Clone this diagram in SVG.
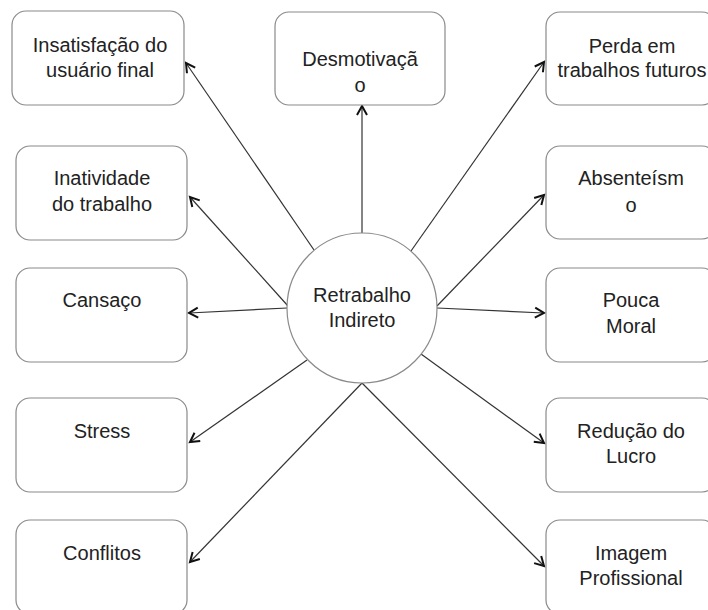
<svg xmlns="http://www.w3.org/2000/svg" width="708" height="610" viewBox="0 0 708 610">
  <style>
    .box { fill: #ffffff; stroke: #8a8a8a; stroke-width: 1.2; }
    .hub { fill: #ffffff; stroke: #8a8a8a; stroke-width: 1.2; }
    .lbl { font-family: "Liberation Sans", Arial, Helvetica, sans-serif; font-size: 20px; fill: #222222; text-anchor: middle; }
    .edge { stroke: #333333; stroke-width: 1.2; fill: none; marker-end: url(#open); }
  </style>
  <defs>
    <marker id="open" markerUnits="userSpaceOnUse" markerWidth="14" markerHeight="14" viewBox="-11 -7 13 14" refX="0" refY="0" orient="auto">
      <path d="M-9,-5 L0,0 L-9,5" fill="none" stroke="#111111" stroke-width="2" stroke-linejoin="miter"/>
    </marker>
  </defs>
  <rect width="708" height="610" fill="#ffffff"/>

  <!-- connectors from the hub -->
  <g id="connectors">
    <line class="edge" x1="362" y1="233" x2="362" y2="106"/>
    <line class="edge" x1="314" y1="250" x2="186" y2="63"/>
    <line class="edge" x1="288" y1="306" x2="190" y2="197"/>
    <line class="edge" x1="287" y1="308" x2="189" y2="313"/>
    <line class="edge" x1="307" y1="360" x2="190" y2="442"/>
    <line class="edge" x1="362" y1="383" x2="190" y2="562"/>
    <line class="edge" x1="411" y1="251" x2="544" y2="62"/>
    <line class="edge" x1="437" y1="306" x2="544" y2="195"/>
    <line class="edge" x1="437" y1="308" x2="544" y2="313"/>
    <line class="edge" x1="421" y1="354" x2="544" y2="443"/>
    <line class="edge" x1="362" y1="383" x2="544" y2="566"/>
  </g>

  <!-- hub -->
  <g id="hub">
    <circle class="hub" cx="362" cy="308" r="75"/>
    <text class="lbl" x="362" y="302">Retrabalho</text>
    <text class="lbl" x="362" y="327">Indireto</text>
  </g>

  <!-- left column -->
  <g id="insatisfacao">
    <rect class="box" x="12" y="11" width="172" height="94" rx="14"/>
    <text class="lbl" x="100" y="52">Insatisfação do</text>
    <text class="lbl" x="100" y="77">usuário final</text>
  </g>
  <g id="inatividade">
    <rect class="box" x="16" y="146" width="171" height="94" rx="14"/>
    <text class="lbl" x="102" y="185">Inatividade</text>
    <text class="lbl" x="102" y="211">do trabalho</text>
  </g>
  <g id="cansaco">
    <rect class="box" x="16" y="268" width="171" height="94" rx="14"/>
    <text class="lbl" x="102" y="307">Cansaço</text>
  </g>
  <g id="stress">
    <rect class="box" x="16" y="398" width="171" height="94" rx="14"/>
    <text class="lbl" x="102" y="438">Stress</text>
  </g>
  <g id="conflitos">
    <rect class="box" x="16" y="520" width="171" height="94" rx="14"/>
    <text class="lbl" x="102" y="560">Conflitos</text>
  </g>

  <!-- top centre -->
  <g id="desmotivacao">
    <rect class="box" x="275" y="12" width="170" height="93" rx="14"/>
    <text class="lbl" x="360" y="66">Desmotivaçã</text>
    <text class="lbl" x="360" y="92">o</text>
  </g>

  <!-- right column -->
  <g id="perda">
    <rect class="box" x="546" y="12" width="170" height="93" rx="14"/>
    <text class="lbl" x="632" y="53">Perda em</text>
    <text class="lbl" x="632" y="77">trabalhos futuros</text>
  </g>
  <g id="absenteismo">
    <rect class="box" x="546" y="146" width="170" height="93" rx="14"/>
    <text class="lbl" x="631" y="185">Absenteísm</text>
    <text class="lbl" x="631" y="212">o</text>
  </g>
  <g id="pouca-moral">
    <rect class="box" x="546" y="268" width="170" height="94" rx="14"/>
    <text class="lbl" x="631" y="307">Pouca</text>
    <text class="lbl" x="631" y="333">Moral</text>
  </g>
  <g id="reducao-lucro">
    <rect class="box" x="546" y="398" width="170" height="94" rx="14"/>
    <text class="lbl" x="631" y="438">Redução do</text>
    <text class="lbl" x="631" y="463">Lucro</text>
  </g>
  <g id="imagem">
    <rect class="box" x="546" y="520" width="170" height="94" rx="14"/>
    <text class="lbl" x="631" y="560">Imagem</text>
    <text class="lbl" x="631" y="585">Profissional</text>
  </g>
</svg>
